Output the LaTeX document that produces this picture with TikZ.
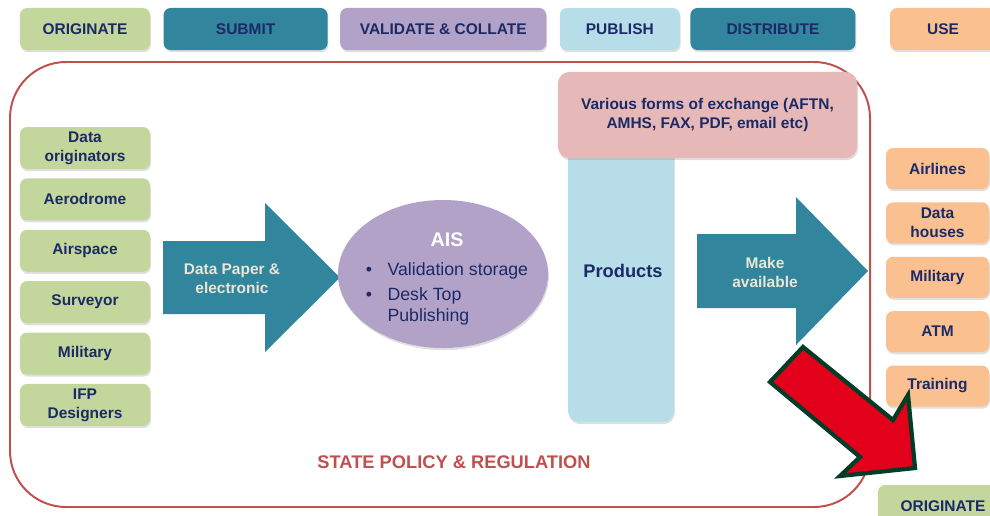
\documentclass[tikz,border=0pt]{standalone}
\usepackage{fontspec}
\setmainfont{Liberation Sans}
\usetikzlibrary{positioning,shapes.geometric,shadows}
\definecolor{cgreen}{HTML}{C3D69B}
\definecolor{cteal}{HTML}{31859C}
\definecolor{cpurple}{HTML}{B2A2C7}
\definecolor{clightblue}{HTML}{B7DEE8}
\definecolor{corange}{HTML}{FAC090}
\definecolor{cpink}{HTML}{E6B9B8}
\definecolor{cframe}{HTML}{C0504D}
\definecolor{cnavy}{HTML}{1B2A66}
\definecolor{cbeige}{HTML}{EAE6D6}
\definecolor{credarrow}{HTML}{E2001A}
\definecolor{cdarkgreen}{HTML}{003D26}

\begin{document}
\begin{tikzpicture}[x=0.025cm, y=-0.025cm,
    stage/.style={rectangle, rounded corners=5pt, minimum height=1.05cm, inner sep=1pt, align=center,
      font=\bfseries\fontsize{11}{13.5}\selectfont, text=cnavy,
      drop shadow={shadow xshift=0.6pt, shadow yshift=-1.5pt, opacity=0.25}},
    source/.style={stage, fill=cgreen, minimum width=3.25cm},
    user/.style={stage, fill=corange, minimum width=2.575cm, minimum height=1.025cm},
    blockarrow/.style={fill=cteal},
    arrowtext/.style={font=\bfseries\fontsize{11}{13.5}\selectfont, text=cbeige, align=center}]
    \useasboundingbox (0,0) rectangle (990,515);

    % stages along the top
    \node[stage, fill=cgreen, minimum width=3.25cm] (Originate) at (85,29) {ORIGINATE};
    \node[stage, fill=cteal, minimum width=4.1cm, right=0.325cm of Originate] (Submit) {SUBMIT};
    \node[stage, fill=cpurple, minimum width=5.15cm, right=0.3cm of Submit] (Validate) {VALIDATE \& COLLATE};
    \node[stage, fill=clightblue, minimum width=3cm, right=0.325cm of Validate] (Publish) {PUBLISH};
    \node[stage, fill=cteal, minimum width=4.125cm, right=0.25cm of Publish] (Distribute) {DISTRIBUTE};
    \node[stage, fill=corange, minimum width=2.65cm, right=0.85cm of Distribute] (Use) {USE};

    % state frame
    \draw[cframe, line width=1.4pt, rounded corners=1.4cm] (10,62) rectangle (870,507);
    \node[font=\bfseries\fontsize{13}{15}\selectfont, text=cframe] (Policy) at (454,462) {STATE POLICY \& REGULATION};

    % originators
    \node[source] (DataOrig) at (85,148) {Data\\originators};
    \node[source, below=0.22cm of DataOrig] (Aerodrome) {Aerodrome};
    \node[source, below=0.22cm of Aerodrome] (Airspace) {Airspace};
    \node[source, below=0.22cm of Airspace] (Surveyor) {Surveyor};
    \node[source, below=0.22cm of Surveyor] (MilitarySrc) {Military};
    \node[source, below=0.22cm of MilitarySrc] (IFP) {IFP\\Designers};

    % submit arrow
    \fill[blockarrow] (163,241) -- (265,241) -- (265,203) -- (340,277.5) -- (265,352) -- (265,314) -- (163,314) -- cycle;
    \node[arrowtext] (PaperText) at (232,279) {Data Paper \&\\electronic};

    % AIS
    \node[ellipse, fill=cpurple, minimum width=5.25cm, minimum height=3.7cm,
      drop shadow={shadow xshift=0.6pt, shadow yshift=-1.5pt, opacity=0.25}] (AIS) at (443,274) {};
    \node[text=cnavy, font=\fontsize{12.6}{15}\selectfont, inner sep=0pt] (AISText) at (447,280) {%
      \begin{tabular}{@{}l@{\hspace{11pt}}l@{}}
        \multicolumn{2}{c}{\color{white}\bfseries\fontsize{14}{16}\selectfont AIS}\\[5.6pt]
        \textbullet & Validation storage\\[2.8pt]
        \textbullet & Desk Top\\
        & Publishing
      \end{tabular}};

    % products and exchange
    \node[rectangle, rounded corners=8pt, fill=clightblue, minimum width=2.65cm, minimum height=7.55cm,
      drop shadow={shadow xshift=0.6pt, shadow yshift=-1.5pt, opacity=0.25}] (ProductsCol) at (621,271) {};
    \node[font=\bfseries\fontsize{13}{15}\selectfont, text=cnavy] (Products) at (623,271) {Products};
    \node[rectangle, rounded corners=8pt, fill=cpink, minimum width=7.475cm, minimum height=2.15cm, align=center,
      font=\bfseries\fontsize{11}{14}\selectfont, text=cnavy,
      drop shadow={shadow xshift=0.6pt, shadow yshift=-1.5pt, opacity=0.25}] (Exchange) at (707.5,115)
      {Various forms of exchange (AFTN,\\AMHS, FAX, PDF, email etc)};

    % distribute arrow
    \fill[blockarrow] (697,234) -- (796,234) -- (796,197) -- (868,271) -- (796,345) -- (796,308) -- (697,308) -- cycle;
    \node[arrowtext] (MakeText) at (765,272) {Make\\available};

    % users
    \node[user] (Airlines) at (937.5,168.5) {Airlines};
    \node[user, below=0.32cm of Airlines] (DataHouses) {Data\\houses};
    \node[user, below=0.32cm of DataHouses] (MilitaryUse) {Military};
    \node[user, below=0.32cm of MilitaryUse] (ATM) {ATM};
    \node[user, below=0.32cm of ATM] (Training) {Training};

    % back to the start
    \node[stage, fill=cgreen, minimum width=3.25cm] (OriginateAgain) at (943,506) {ORIGINATE};
    \draw[fill=credarrow, draw=cdarkgreen, line width=3pt, line join=miter]
      (803,347) -- (893,420) -- (908,395) -- (915,468) -- (840,476) -- (860,457) -- (770,382) -- cycle;
  \end{tikzpicture}
\end{document}
